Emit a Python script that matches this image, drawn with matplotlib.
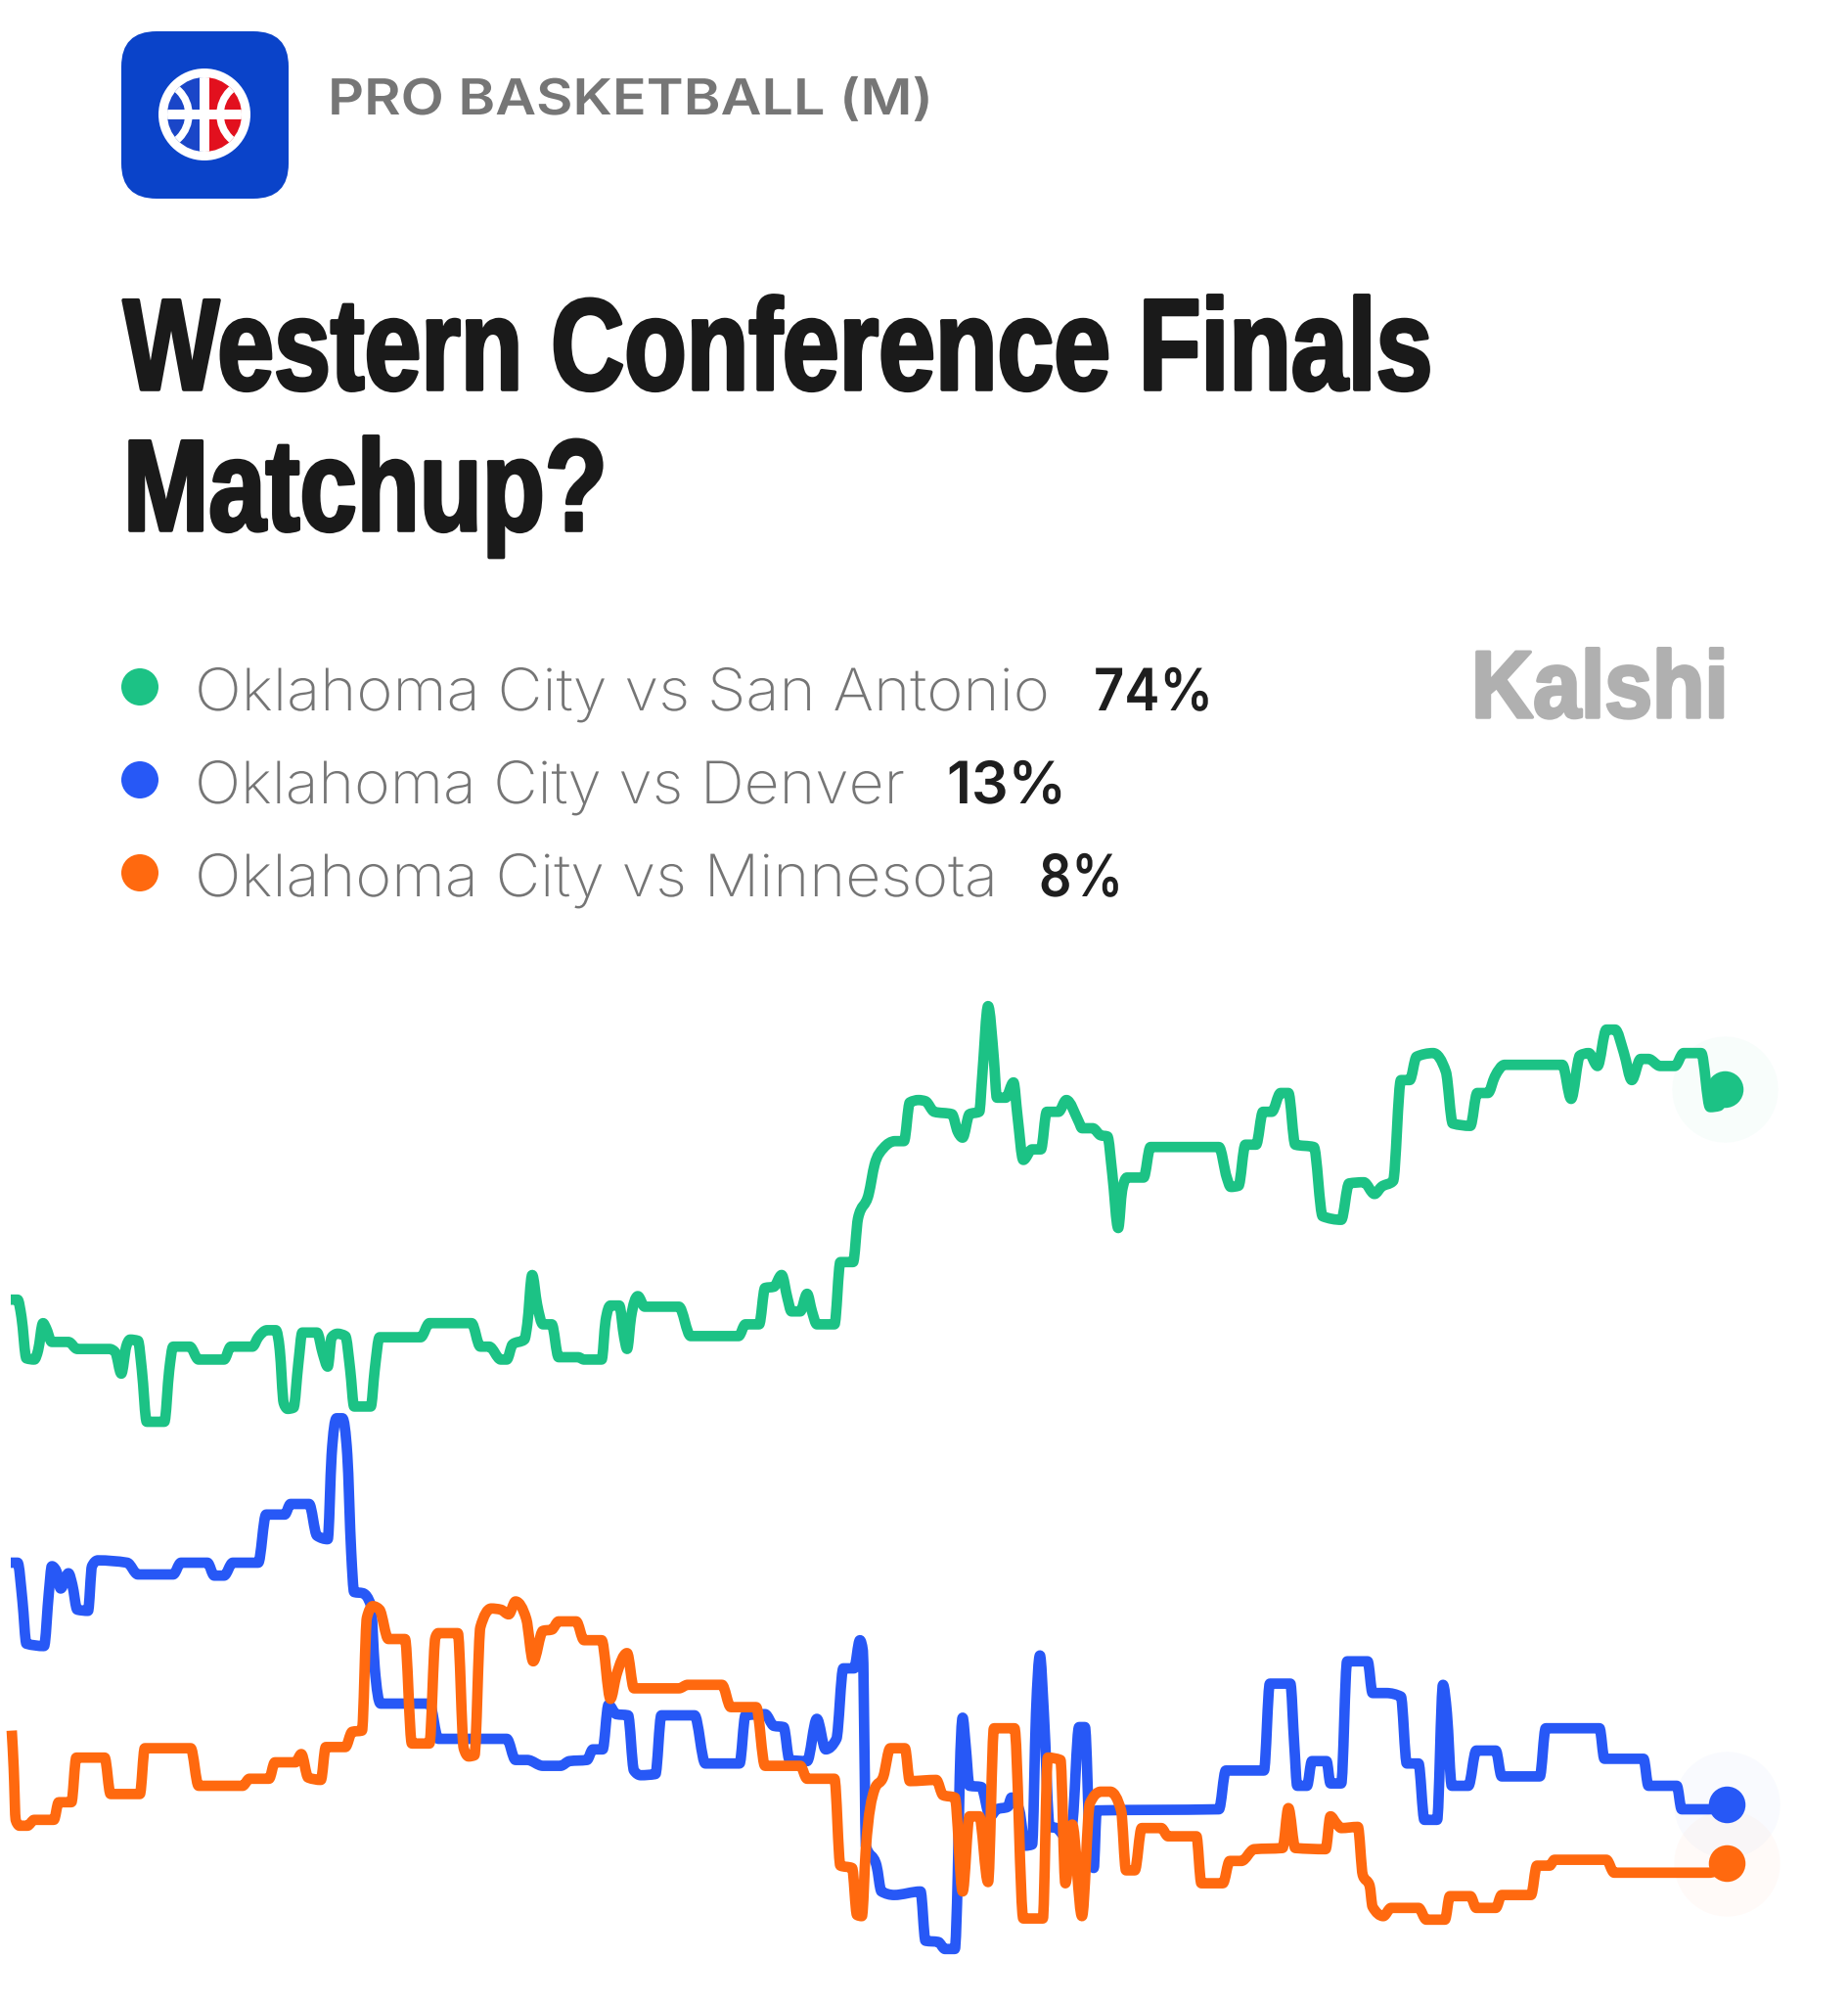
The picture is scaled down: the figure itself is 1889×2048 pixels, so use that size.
import numpy as np
import matplotlib
matplotlib.use("Agg")
import matplotlib.pyplot as plt
from matplotlib.patches import FancyBboxPatch, Circle, Rectangle
from matplotlib.path import Path
from matplotlib.transforms import Affine2D, IdentityTransform
import matplotlib.patheffects as pe

W, H = 1889, 2048
TITLE = ["Western Conference Finals", "Matchup?"]
CATEGORY = "PRO BASKETBALL (M)"
BRAND = "Kalshi"
LABELS = ["Oklahoma City vs San Antonio", "Oklahoma City vs Denver", "Oklahoma City vs Minnesota"]
PCTS = ["74%", "13%", "8%"]
COLORS = ["#1CC285", "#2758F6", "#FF690F"]

green_t = [11,18,22,27,35,39,44,47,53,70,79,112,118,124,129,133,141,145,150,168,173,177,194,203,229,236,258,264,273,282,286,290,294,300,305,309,324,330,335,339,345,353,358,362,379,383,388,430,439,482,491,500,512,518,524,536,539,544,549,555,564,571,591,597,615,619,624,633,638,641,645,652,659,694,706,755,762,776,782,791,799,805,809,818,825,830,835,853,859,872,877,888,894,903,915,924,930,939,946,955,973,979,984,991,1001,1004,1010,1016,1019,1028,1036,1040,1046,1055,1064,1070,1082,1090,1103,1106,1117,1125,1132,1137,1143,1147,1152,1169,1176,1246,1254,1258,1266,1273,1284,1291,1300,1309,1317,1324,1343,1352,1371,1379,1394,1405,1412,1424,1432,1441,1448,1465,1478,1485,1503,1510,1521,1528,1538,1597,1606,1615,1624,1633,1642,1651,1660,1668,1677,1685,1697,1712,1721,1739,1748,1757,1763]
green_v = [55.9,55.9,54.4,50.9,50.8,51.6,53.9,53.5,52.3,52.3,51.7,51.7,51.4,49.6,51.9,52.5,52.4,49.9,45.5,45.5,49.9,51.9,51.9,50.8,50.8,51.9,51.9,52.7,53.3,53.3,51.6,47.1,46.6,46.7,50.5,53.1,53.1,51.3,50.2,52.7,53.0,52.8,49.9,46.8,46.8,49.9,52.7,52.7,53.9,53.9,51.9,51.9,50.8,50.8,52.1,52.5,53.8,58.0,55.5,53.8,53.8,51.0,51.0,50.8,50.8,54.1,55.4,55.4,52.7,51.7,54.4,56.2,55.3,55.3,52.8,52.8,53.8,53.8,56.9,57.0,58.0,56.0,54.9,54.9,56.4,54.9,53.8,53.8,59.1,59.1,62.8,64.9,67.4,68.8,69.4,69.4,72.7,72.9,72.8,71.9,71.7,70.2,69.7,71.7,71.9,74.9,80.9,76.3,73.1,73.1,74.4,71.6,67.8,68.7,68.7,71.9,71.9,72.9,71.0,70.5,70.5,69.9,69.8,66.6,62.0,65.2,66.3,66.3,68.9,68.9,66.3,65.5,65.6,69.1,69.1,71.9,71.9,73.5,73.5,69.1,68.9,63.0,62.7,65.8,65.9,64.9,65.5,66.0,74.6,74.6,76.6,76.9,75.3,70.9,70.7,73.5,73.5,74.9,75.9,75.9,73.0,76.7,76.9,75.8,78.9,78.9,76.9,74.6,76.4,76.4,75.8,75.8,76.9,76.9,72.3,72.4,73.8]

blue_t = [11,18,23,27,45,50,53,58,62,70,74,79,90,94,100,130,141,177,185,212,219,229,238,264,272,291,297,316,324,335,339,344,350,355,359,362,371,379,383,389,439,448,518,527,539,555,573,582,600,606,616,622,630,642,648,655,670,676,710,721,756,762,782,791,801,807,825,835,844,855,862,873,879,882,884,885,896,901,914,941,946,959,966,976,979,981,984,987,991,1003,1012,1019,1030,1034,1042,1048,1055,1059,1063,1067,1073,1080,1089,1096,1103,1109,1114,1118,1121,1246,1253,1292,1298,1319,1323,1326,1336,1341,1356,1360,1371,1377,1398,1403,1417,1432,1438,1450,1456,1469,1475,1479,1484,1501,1509,1529,1535,1574,1580,1635,1640,1680,1685,1714,1719,1747,1765]
blue_v = [33.5,33.5,30.2,26.6,26.4,31.0,33.2,32.7,31.3,32.6,31.6,29.5,29.4,33.2,33.7,33.5,32.5,32.5,33.5,33.5,32.4,32.4,33.5,33.5,37.6,37.6,38.5,38.5,35.8,35.5,42.7,45.8,45.8,42.7,34.4,31.0,30.9,29.9,24.6,21.5,21.5,18.5,18.5,16.7,16.7,16.2,16.2,16.6,16.7,17.6,17.6,21.4,20.6,20.5,15.8,15.4,15.5,20.5,20.5,16.4,16.4,20.5,20.6,19.6,19.5,16.7,16.6,20.2,17.6,18.5,24.5,24.5,26.9,26.0,15.2,9.4,7.7,5.5,5.2,5.5,1.3,1.2,0.6,0.6,6.9,15.2,20.3,18.0,14.5,14.4,11.9,12.5,12.7,13.5,12.4,9.4,9.5,20.7,25.6,20.7,11.0,10.9,10.2,11.3,19.5,19.5,9.6,7.5,12.4,12.5,15.8,15.8,23.2,23.2,18.0,14.5,14.5,16.6,16.6,14.7,14.7,25.1,25.1,22.4,22.4,22.1,16.4,16.4,11.6,11.6,23.1,20.7,14.5,14.5,17.5,17.5,15.3,15.3,19.4,19.4,16.8,16.8,14.5,14.5,12.5,12.5,12.9]

orange_t = [12,14,16,20,28,35,55,60,73,78,107,113,143,148,195,203,248,255,275,281,302,308,315,328,333,353,360,370,375,381,388,397,414,421,439,445,448,468,474,479,485,491,502,512,520,527,538,545,555,564,571,589,597,615,624,630,641,648,694,703,738,747,773,782,818,825,853,859,871,876,881,885,894,903,910,925,930,957,964,976,984,991,1001,1010,1016,1037,1046,1066,1071,1084,1089,1096,1106,1114,1125,1135,1146,1151,1160,1167,1187,1194,1223,1228,1250,1257,1269,1282,1311,1317,1324,1355,1360,1366,1371,1388,1393,1400,1403,1414,1422,1450,1458,1477,1482,1503,1509,1529,1535,1565,1571,1584,1589,1642,1650,1747,1765]
orange_v = [19.2,16.0,11.6,11.1,11.1,11.6,11.6,13.1,13.1,16.9,16.9,13.8,13.8,17.7,17.7,14.5,14.5,15.1,15.1,16.5,16.5,17.2,15.2,15.0,17.8,17.8,19.1,19.2,28.8,29.8,29.5,27.0,27.0,18.1,18.1,27.1,27.5,27.5,17.7,17.0,17.1,28.0,29.6,29.5,29.1,30.2,28.7,25.1,27.7,27.8,28.5,28.5,26.9,26.9,21.9,23.9,25.8,22.8,22.8,23.1,23.1,21.2,21.2,16.2,16.2,15.1,15.1,7.7,7.5,3.5,3.4,9.1,14.2,15.3,17.7,17.7,14.9,15.0,13.7,13.5,5.5,11.9,11.9,6.3,19.4,19.4,3.2,3.2,16.9,16.7,6.2,11.2,3.4,13.0,14.0,14.0,12.4,7.3,7.3,10.9,10.9,10.2,10.2,6.2,6.2,8.1,8.1,9.1,9.2,12.6,9.2,9.1,11.9,11.3,10.9,11.0,6.9,6.0,4.2,3.4,4.1,4.1,3.1,3.1,5.1,5.1,4.1,4.1,5.2,5.2,7.7,7.7,8.2,8.2,7.1,7.1,7.9]


class MonotoneCurve(pe.AbstractPathEffect):
    """Strokes a polyline through its own vertices with monotone-x bezier segments."""
    def draw_path(self, renderer, gc, tpath, affine, rgbFace=None):
        xy = affine.transform(tpath.vertices)
        x, y = xy[:, 0], xy[:, 1]
        h = np.diff(x)
        s = np.diff(y) / h
        m = np.zeros(len(x))
        for i in range(1, len(x) - 1):
            p = (s[i - 1] * h[i] + s[i] * h[i - 1]) / (h[i - 1] + h[i])
            m[i] = (np.sign(s[i - 1]) + np.sign(s[i])) * min(abs(s[i - 1]), abs(s[i]), 0.5 * abs(p))
        m[0] = (3 * s[0] - m[1]) / 2
        m[-1] = (3 * s[-1] - m[-2]) / 2
        verts, codes = [(x[0], y[0])], [Path.MOVETO]
        for i in range(len(h)):
            d = h[i] / 3
            verts += [(x[i] + d, y[i] + m[i] * d), (x[i + 1] - d, y[i + 1] - m[i + 1] * d), (x[i + 1], y[i + 1])]
            codes += [Path.CURVE4] * 3
        renderer.draw_path(gc, Path(verts, codes), IdentityTransform(), None)


class Stretch(pe.AbstractPathEffect):
    """Scales glyph outlines about the text origin, optionally thickening them."""
    def __init__(self, sx=1.0, sy=1.0, stroke=0.0):
        super().__init__()
        self.sx, self.sy, self.stroke = sx, sy, stroke

    def draw_path(self, renderer, gc, tpath, affine, rgbFace=None):
        tr = Affine2D().scale(self.sx, self.sy) + affine
        gc0 = renderer.new_gc()
        gc0.copy_properties(gc)
        if self.stroke > 0:
            gc0.set_linewidth(self.stroke)
            gc0.set_foreground(rgbFace)
        else:
            gc0.set_linewidth(0)
        renderer.draw_path(gc0, tpath, tr, rgbFace)
        gc0.restore()


fig = plt.figure(figsize=(W / 100, H / 100), dpi=100, facecolor="white")
rend = fig.canvas.get_renderer()

# chart axes: full figure, x in chart time units, y in percent
ax = fig.add_axes([0, 0, 1, 1])
ax.set_xlim(0, W)
ax.set_ylim(-4.083, 166.583)
ax.axis("off")
LW = 7.7
series = [(green_t, green_v), (blue_t, blue_v), (orange_t, orange_v)]
for (t, v), c, z in zip(series, COLORS, (3, 4, 5)):
    ax.plot(t, v, color=c, lw=LW, solid_joinstyle="round", solid_capstyle="butt", zorder=z,
            path_effects=[MonotoneCurve()])
    ax.plot(t[-1], v[-1], "o", ms=78, color=c, alpha=0.028, mew=0, zorder=2)
    ax.plot(t[-1], v[-1], "o", ms=27, color=c, mew=0, zorder=6)

# header overlay in figure pixels
hd = fig.add_axes([0, 0, 1, 1])
hd.set_xlim(0, W)
hd.set_ylim(H, 0)
hd.axis("off")
hd.patch.set_alpha(0)

hd.add_patch(FancyBboxPatch((160, 68), 99, 99, boxstyle="round,pad=36,rounding_size=36",
                            fc="#0A43C9", ec="none"))
bx, by = 209, 117
hd.add_patch(Circle((bx, by), 47, fc="white", ec="none", zorder=3))
inner = Circle((bx, by), 38, fc="none", ec="none", zorder=3)
hd.add_patch(inner)
left = Rectangle((bx - 40, by - 40), 40, 80, fc="#1A46C8", ec="none", zorder=4)
right = Rectangle((bx, by - 40), 40, 80, fc="#E2101E", ec="none", zorder=4)
hd.add_patch(left); hd.add_patch(right)
left.set_clip_path(inner); right.set_clip_path(inner)
for pch in (Rectangle((bx - 5, by - 42), 10, 84, fc="white", ec="none", zorder=5),
            Rectangle((bx - 42, by - 5), 84, 10, fc="white", ec="none", zorder=5),
            Circle((bx - 50, by), 34, fc="none", ec="white", lw=5.5, zorder=5),
            Circle((bx + 50, by), 34, fc="none", ec="white", lw=5.5, zorder=5)):
    hd.add_patch(pch)
    pch.set_clip_path(inner)


def put(x, base, s, width, size, family, weight, color, sy=1.0, stroke=0.0):
    """Place text with its glyphs scaled horizontally to the wanted width."""
    t = hd.text(x, base, s, fontsize=size, family=family, weight=weight, color=color,
                va="baseline", ha="left", zorder=8)
    natural = t.get_window_extent(rend).width
    sx = width / natural if width else 1.0
    t.set_path_effects([Stretch(sx, sy, stroke)])
    return t


put(335, 117, CATEGORY, 619, 36.5, "Inter", "semibold", "#767676")

# title: font size chosen from the width of the first line, height stretched to the cap height
probe = hd.text(0, 0, TITLE[0], fontsize=72, family="Liberation Sans", weight="bold")
tw = probe.get_window_extent(rend).width
probe.remove()
tsize = 72 * 1338 / tw
tsy = 95 / (0.716 * tsize * 100 / 72)
put(126, 398, TITLE[0], None, tsize, "Liberation Sans", "bold", "#1A1A1A", sy=tsy, stroke=2.6)
put(126, 542, TITLE[1], 495, tsize, "Liberation Sans", "bold", "#1A1A1A", sy=tsy, stroke=2.6)

legend_y = [702, 797, 892]
label_w = [874, 726, 821]
pct_x = [1118, 968, 1062]
pct_w = [122, 122, 86]
for yy, lab, pct, c, lw_, px, pw in zip(legend_y, LABELS, PCTS, COLORS, label_w, pct_x, pct_w):
    hd.add_patch(Circle((143, yy), 19, fc=c, ec="none"))
    put(199, yy + 24, lab, lw_, 43, "Inter", "light", "#757575")
    put(px, yy + 24, pct, pw, 43, "Inter", "semibold", "#1E1E1E")

put(1504, 733, BRAND, 263, 72, "Liberation Sans", "bold", "#B0B0B0", sy=0.97, stroke=2.5)

fig.savefig("out.png", dpi=100, facecolor="white")
